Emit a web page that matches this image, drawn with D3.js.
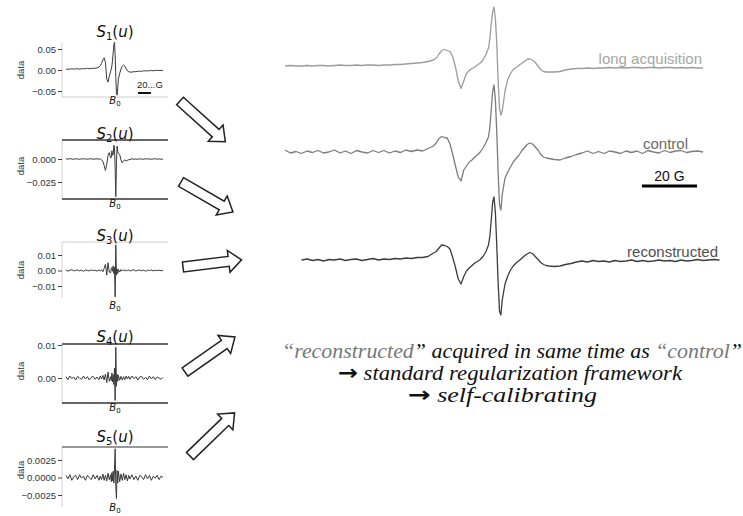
<!DOCTYPE html>
<html>
<head>
<meta charset="utf-8">
<script src="https://cdn.jsdelivr.net/npm/d3@7"></script>
<style>
  body { margin: 0; background: #fff; }
  svg { display: block; }
  .axis text { font-family: "Liberation Sans", Arial, sans-serif; font-size: 9.5px; fill: #333; }
  .axis line { stroke: #444; }
  .axis path { display: none; }
  .math { font-family: "DejaVu Sans", sans-serif; fill: #111; }
  .trace-label { font-family: "Liberation Sans", Arial, sans-serif; font-size: 15px; }
  .caption { font-family: "Liberation Serif", serif; font-style: italic; font-size: 20px; fill: #111; }
  .caption .arrow { font-family: "DejaVu Sans", sans-serif; font-style: normal; font-weight: bold; font-size: 21px; }
</style>
</head>
<body>
<svg id="chart" width="743" height="516"></svg>
<script>
// ---- component panels S1..S5 (field offset in G) ----
const fieldS = [-75,-72,-69,-66,-63,-60,-57,-54,-51,-48,-45,-42,-39,-36,-33,-30,-27,-24,
  -22,-20,-18,-16,-14,-12,-10,-8,-6,
  -5,-4,-3,-2,-1,0,1,2,3,4,5,
  6,8,10,12,14,16,18,20,22,
  24,27,30,33,36,39,42,45,48,51,54,57,60,63,66,69,72,75];

const s1Values = [0.002,0.002,0.002,0.003,0.002,0.003,0.003,0.002,0.003,0.003,0.003,0.004,0.003,0.004,0.004,0.004,0.005,0.007,
  0.010,0.016,0.024,0.029,0.018,-0.022,-0.029,-0.014,-0.004,
  0.002,0.010,0.024,0.042,0.060,0.066,0.035,-0.015,-0.055,-0.060,-0.042,
  -0.022,-0.008,0.002,0.009,0.012,0.009,0.003,-0.002,-0.004,
  -0.005,-0.005,-0.004,-0.004,-0.003,-0.003,-0.003,-0.002,-0.002,-0.002,-0.002,-0.001,-0.002,-0.001,-0.001,-0.001,-0.001,-0.001];

const s2Values = [0.0003,-0.0002,0.0004,0.0000,-0.0003,0.0002,0.0001,-0.0004,0.0003,0.0000,0.0002,-0.0003,0.0001,0.0003,-0.0002,0.0000,0.0002,-0.0001,
  0.0000,-0.0008,-0.0025,-0.0070,-0.0125,-0.0060,0.0040,0.0070,0.0010,
  0.0020,0.0090,0.0040,0.0050,0.0150,0.0120,-0.0100,-0.0410,-0.0050,0.0140,0.0080,
  0.0060,0.0050,-0.0010,-0.0040,-0.0020,-0.0010,-0.0020,-0.0015,-0.0008,
  -0.0005,0.0002,-0.0003,0.0001,-0.0004,0.0002,0.0000,-0.0003,0.0003,-0.0001,0.0002,-0.0004,0.0001,0.0003,-0.0002,0.0001,-0.0003,0.0000];

const s3Values = [0.0003,-0.0004,0.0002,0.0005,-0.0002,0.0000,0.0004,-0.0003,0.0002,-0.0005,0.0003,0.0001,-0.0003,0.0004,-0.0001,0.0002,-0.0004,0.0003,
  -0.0002,0.0005,-0.0008,0.0015,0.0040,-0.0030,0.0050,-0.0010,-0.0015,
  0.0010,0.0020,-0.0005,0.0030,-0.0020,0.0020,-0.0170,0.0165,-0.0030,0.0010,-0.0020,
  0.0008,-0.0010,0.0006,-0.0004,0.0005,-0.0003,0.0004,-0.0002,0.0003,
  -0.0004,0.0002,0.0005,-0.0003,0.0001,0.0004,-0.0002,0.0003,-0.0005,0.0002,0.0000,0.0004,-0.0003,0.0002,-0.0001,0.0003,-0.0002,0.0001];

const s4Values = [0.0004,-0.0005,0.0006,-0.0002,0.0003,-0.0006,0.0005,0.0000,-0.0004,0.0006,-0.0003,0.0004,-0.0006,0.0002,0.0005,-0.0004,0.0003,-0.0005,
  0.0006,-0.0003,0.0008,-0.0006,0.0012,-0.0014,0.0018,-0.0010,0.0004,
  -0.0008,0.0015,-0.0012,0.0010,-0.0020,0.0030,-0.0068,0.0093,-0.0025,0.0012,-0.0010,
  0.0008,-0.0007,0.0005,-0.0006,0.0004,-0.0005,0.0006,-0.0003,0.0005,
  -0.0004,0.0006,-0.0002,0.0004,-0.0006,0.0003,0.0005,-0.0004,0.0002,-0.0005,0.0006,-0.0003,0.0004,-0.0005,0.0003,0.0000,-0.0004,0.0002];

const s5Values = [0.0003,-0.0002,0.0004,-0.0004,0.0001,0.0003,-0.0003,0.0004,-0.0001,0.0002,-0.0004,0.0003,0.0000,-0.0003,0.0004,-0.0002,0.0003,-0.0004,
  0.0002,-0.0003,0.0005,-0.0004,0.0003,-0.0005,0.0006,-0.0003,0.0004,
  -0.0006,0.0007,-0.0005,0.0009,-0.0008,0.0012,0.0041,-0.0012,-0.0030,0.0010,-0.0008,
  0.0009,-0.0006,0.0005,-0.0004,0.0006,-0.0003,0.0004,-0.0005,0.0003,
  -0.0002,0.0004,-0.0003,0.0002,-0.0004,0.0003,0.0001,-0.0003,0.0004,-0.0002,0.0003,-0.0004,0.0002,-0.0001,0.0003,-0.0003,0.0002,0.0000];

const componentSeries = [s1Values, s2Values, s3Values, s4Values, s5Values];
const componentTicks = [[0.05, 0, -0.05], [0, -0.025], [0.01, 0, -0.01], [0.01, 0], [0.0025, 0, -0.0025]];
const componentTickFormats = ['.2f', '.3f', '.2f', '.2f', '.4f'];
const componentDomains = [[-0.05, 0.05], [-0.025, 0], [-0.01, 0.01], [0, 0.01], [-0.0025, 0.0025]];

// ---- spectra on the right (field offset in G, amplitude in a.u.) ----
const fieldR = [-76,-74,-72,-70,-68,-66,-64,-62,-60,-58,-56,-54,-52,-50,-48,-46,-44,-42,-40,-38,-36,-34,-32,-30,-28,
  -26,-24,-22,
  -21,-20,-19,-18,-17,-16,-15,-14,-13,-12,-11,-10,-9,-8,-7,-6,-5,-4,-3,
  -2,-1.5,-1,-0.5,0,0.5,1,1.5,2,2.5,3,
  4,5,6,7,8,9,10,11,12,13,14,15,16,17,18,19,20,
  22,24,26,28,30,32,34,36,38,40,42,44,46,48,50,52,54,56,58,60,62,64,66,68,70,72,74,76,78,80,82];

const longAcq = [0.00,0.01,0.00,0.00,0.01,0.00,0.01,0.01,0.00,0.01,0.02,0.01,0.01,0.02,0.01,0.02,0.02,0.01,0.02,0.02,0.03,0.03,0.04,0.05,0.06,
  0.07,0.09,0.12,
  0.16,0.24,0.31,0.33,0.31,0.29,0.18,-0.02,-0.30,-0.45,-0.30,-0.15,-0.09,-0.05,-0.02,0.02,0.06,0.12,0.22,
  0.36,0.55,0.85,1.08,1.18,0.95,0.45,-0.30,-0.85,-0.98,-0.90,
  -0.50,-0.27,-0.15,-0.07,-0.03,0.01,0.05,0.09,0.13,0.14,0.12,0.07,0.00,-0.07,-0.11,-0.12,-0.12,
  -0.12,-0.11,-0.08,-0.06,-0.05,-0.05,-0.04,-0.05,-0.04,-0.04,-0.03,-0.04,-0.03,-0.04,-0.03,-0.03,-0.04,-0.03,-0.03,-0.04,-0.03,-0.03,-0.04,-0.03,-0.04,-0.03,-0.04,-0.04,null,null,null];

const control = [0.04,-0.02,0.01,-0.03,0.02,-0.01,0.03,-0.02,0.00,0.04,-0.02,0.02,-0.03,0.03,0.00,-0.02,0.03,-0.01,0.03,-0.02,0.02,-0.01,0.04,0.01,0.04,
  0.02,0.07,0.12,
  0.18,0.27,0.31,0.29,0.28,0.16,-0.05,-0.28,-0.50,-0.58,-0.36,-0.28,-0.20,-0.16,-0.10,-0.06,0.00,0.08,0.18,
  0.30,0.50,0.85,1.20,1.34,1.05,0.40,-0.40,-1.05,-1.16,-0.85,
  -0.52,-0.40,-0.30,-0.20,-0.13,-0.07,0.02,0.08,0.15,0.18,0.16,0.10,0.04,-0.05,-0.10,-0.12,-0.13,
  -0.15,-0.16,-0.12,-0.09,-0.05,-0.02,0.02,-0.03,0.01,-0.03,0.02,0.00,-0.03,0.02,-0.01,0.02,-0.03,0.03,0.00,-0.02,0.03,-0.01,0.02,0.03,-0.01,0.01,0.02,0.00,null,null,null];

const reconstructed = [null,null,null,0.00,0.02,-0.01,0.01,-0.02,0.01,0.00,0.02,-0.01,0.01,0.02,-0.01,0.01,0.03,0.00,0.02,0.01,0.03,0.02,0.04,0.03,0.05,
  0.05,0.07,0.14,
  0.17,0.24,0.30,0.29,0.27,0.22,0.05,-0.15,-0.38,-0.48,-0.33,-0.22,-0.16,-0.11,-0.06,-0.03,0.01,0.07,0.16,
  0.30,0.48,0.80,1.15,1.26,0.95,0.30,-0.45,-1.02,-1.10,-0.80,
  -0.48,-0.32,-0.20,-0.12,-0.06,-0.02,0.03,0.08,0.12,0.15,0.13,0.07,0.01,-0.05,-0.09,-0.11,-0.12,
  -0.13,-0.12,-0.09,-0.07,-0.04,-0.02,-0.04,-0.01,-0.03,-0.02,-0.04,-0.01,-0.03,-0.02,0.00,-0.03,-0.01,-0.03,-0.02,0.00,-0.02,-0.01,-0.03,0.00,-0.02,-0.01,0.01,-0.01,0.00,0.01,0.00];

const spectraNames = ['long acquisition', 'control', 'reconstructed'];
const spectraSeries = [longAcq, control, reconstructed];

// sanity check on hand-typed arrays
componentSeries.forEach((s, i) => { if (s.length !== fieldS.length) throw new Error('S' + (i + 1) + ' length ' + s.length); });
spectraSeries.forEach((s, i) => { if (s.length !== fieldR.length) throw new Error(spectraNames[i] + ' length ' + s.length); });

const svg = d3.select('#chart');

// ---------- left: component panels ----------
const panelLayout = [
  { rangeY: [91, 49],   titleY: 37,  b0Y: 104, labelY: 70,  top: null,    bottom: 97,   frameTop: 42 },
  { rangeY: [182, 159], titleY: 139, b0Y: 207, labelY: 166, top: 'dark',  bottom: 199,  frameTop: 140 },
  { rangeY: [286, 255], titleY: 241, b0Y: 309, labelY: 270, top: 'light', bottom: null, frameTop: 242 },
  { rangeY: [378, 345], titleY: 342, b0Y: 411, labelY: 371, top: 'dark',  bottom: 403,  frameTop: 344 },
  { rangeY: [495, 460], titleY: 442, b0Y: 511, labelY: 470, top: 'mid',   bottom: null, frameTop: 447 }
];
const spineX = 62, panelRight = 168;
const xS = d3.scaleLinear().domain([-75, 75]).range([66, 163]);

componentSeries.forEach((vals, i) => {
  const lay = panelLayout[i];
  const g = svg.append('g').attr('class', 'component');
  const y = d3.scaleLinear().domain(componentDomains[i]).range(lay.rangeY);
  const yTop = lay.frameTop;
  const yBot = lay.bottom || (lay.rangeY[0] + 12);

  // frame lines
  g.append('line').attr('x1', spineX).attr('x2', spineX).attr('y1', yTop).attr('y2', yBot)
    .attr('stroke', '#d4d4d4').attr('stroke-width', 1);
  if (lay.top) {
    const col = lay.top === 'dark' ? '#333' : (lay.top === 'mid' ? '#999' : '#ccc');
    const w = lay.top === 'light' ? 1 : (lay.top === 'mid' ? 2 : 1.5);
    g.append('line').attr('x1', spineX).attr('x2', panelRight).attr('y1', yTop).attr('y2', yTop)
      .attr('stroke', col).attr('stroke-width', w);
  }
  if (lay.bottom) {
    const col = lay.top === 'dark' ? '#333' : '#ccc';
    g.append('line').attr('x1', spineX).attr('x2', panelRight).attr('y1', lay.bottom).attr('y2', lay.bottom)
      .attr('stroke', col).attr('stroke-width', lay.top === 'dark' ? 1.5 : 1);
  }

  // y axis
  const fmt = d3.format(componentTickFormats[i]);
  g.append('g').attr('class', 'axis')
    .attr('transform', `translate(${spineX},0)`)
    .call(d3.axisLeft(y).tickValues(componentTicks[i]).tickSize(4).tickPadding(2)
      .tickFormat(d => fmt(d).replace('-', '\u2212')));

  g.append('text')
    .attr('transform', `translate(24,${lay.labelY}) rotate(-90)`)
    .attr('text-anchor', 'middle')
    .style('font-family', '"Liberation Sans", Arial, sans-serif').style('font-size', '9.5px').style('fill', '#333')
    .text('data');

  // trace
  const line = d3.line().x((d, j) => xS(fieldS[j])).y(d => y(d));
  g.append('path').datum(vals).attr('d', line)
    .attr('fill', 'none').attr('stroke', '#3a3a3a').attr('stroke-width', 1);

  // title S_k(u)
  const t = g.append('text').attr('class', 'math').attr('x', 115).attr('y', lay.titleY)
    .attr('text-anchor', 'middle').style('font-size', '15px');
  t.append('tspan').style('font-style', 'italic').text('S');
  t.append('tspan').style('font-size', '10px').attr('dy', 3).text(i + 1);
  t.append('tspan').attr('dy', -3).text('(');
  t.append('tspan').style('font-style', 'italic').text('u');
  t.append('tspan').text(')');

  // B0 label
  const b = g.append('text').attr('class', 'math').attr('x', 115).attr('y', lay.b0Y)
    .attr('text-anchor', 'middle').style('font-size', '10px');
  b.append('tspan').style('font-style', 'italic').text('B');
  b.append('tspan').style('font-size', '7px').attr('dy', 2).text('0');
});

// scale bar inside S1 panel
svg.append('text').attr('x', 137).attr('y', 88)
  .style('font-family', '"Liberation Sans", Arial, sans-serif').style('font-size', '9.5px').style('fill', '#222')
  .text('20...G');
svg.append('line').attr('x1', 138).attr('x2', 138 + xS(20) - xS(0)).attr('y1', 93).attr('y2', 93)
  .attr('stroke', '#111').attr('stroke-width', 2);

// ---------- arrows ----------
const arrows = [
  { x: 180, y: 101, angle: 42, len: 61 },
  { x: 181, y: 182, angle: 30, len: 60 },
  { x: 183, y: 267, angle: -7, len: 59 },
  { x: 185, y: 372, angle: -35, len: 61 },
  { x: 190, y: 456, angle: -44, len: 62 }
];
arrows.forEach(a => {
  const L = a.len, hl = 13, sw = 5, hw = 11;
  const pts = [[0, -sw], [L - hl, -sw], [L - hl, -hw], [L, 0], [L - hl, hw], [L - hl, sw], [0, sw]];
  svg.append('path')
    .attr('d', d3.line()(pts) + 'Z')
    .attr('transform', `translate(${a.x},${a.y}) rotate(${a.angle})`)
    .attr('fill', '#fff').attr('stroke', '#222').attr('stroke-width', 1.5).attr('stroke-linejoin', 'miter');
});

// ---------- right: spectra ----------
const xR = d3.scaleLinear().domain([-76, 82]).range([285, 719.5]);
const traceBase = [66, 152, 260];
const traceColor = ['#9c9c9c', '#7c7c7c', '#3c3c3c'];
const labelStyle = [
  { x: 702, y: 64, fill: '#a6a6a6' },
  { x: 688, y: 149, fill: '#6a6a6a' },
  { x: 718, y: 257, fill: '#505050' }
];

spectraSeries.forEach((vals, i) => {
  const base = traceBase[i];
  const y = d3.scaleLinear().domain([-1, 1]).range([base + 50, base - 50]);
  const line = d3.line()
    .defined(d => d != null)
    .x((d, j) => xR(fieldR[j]))
    .y(d => y(d));
  svg.append('path').datum(vals).attr('d', line)
    .attr('fill', 'none').attr('stroke', traceColor[i]).attr('stroke-width', 1.3)
    .attr('stroke-linejoin', 'round');
  svg.append('text').attr('class', 'trace-label')
    .attr('x', labelStyle[i].x).attr('y', labelStyle[i].y)
    .attr('text-anchor', 'end').style('fill', labelStyle[i].fill)
    .text(spectraNames[i]);
});

// 20 G scale bar
const barX = 642;
svg.append('line').attr('x1', barX).attr('x2', barX + xR(20) - xR(0)).attr('y1', 186).attr('y2', 186)
  .attr('stroke', '#000').attr('stroke-width', 3);
svg.append('text').attr('class', 'trace-label')
  .attr('x', barX + (xR(20) - xR(0)) / 2).attr('y', 181).attr('text-anchor', 'middle')
  .style('font-size', '14px').style('fill', '#111')
  .text('20 G');

// ---------- caption (glyphs stretched to the width of the original serif face) ----------
const cap1 = svg.append('text').attr('class', 'caption').attr('x', 282).attr('y', 358)
  .attr('textLength', 460).attr('lengthAdjust', 'spacingAndGlyphs');
cap1.append('tspan').style('fill', '#777').text('\u201Creconstructed');
cap1.append('tspan').text('\u201D acquired in same time as ');
cap1.append('tspan').style('fill', '#777').text('\u201Ccontrol');
cap1.append('tspan').text('\u201D');

const cap2 = svg.append('text').attr('class', 'caption').attr('x', 338).attr('y', 380)
  .attr('textLength', 344).attr('lengthAdjust', 'spacingAndGlyphs');
cap2.append('tspan').attr('class', 'arrow').text('\u2192');
cap2.append('tspan').text(' standard regularization framework');

const cap3 = svg.append('text').attr('class', 'caption').attr('x', 408).attr('y', 402)
  .attr('textLength', 189).attr('lengthAdjust', 'spacingAndGlyphs');
cap3.append('tspan').attr('class', 'arrow').text('\u2192');
cap3.append('tspan').text(' self-calibrating');
</script>
</body>
</html>
